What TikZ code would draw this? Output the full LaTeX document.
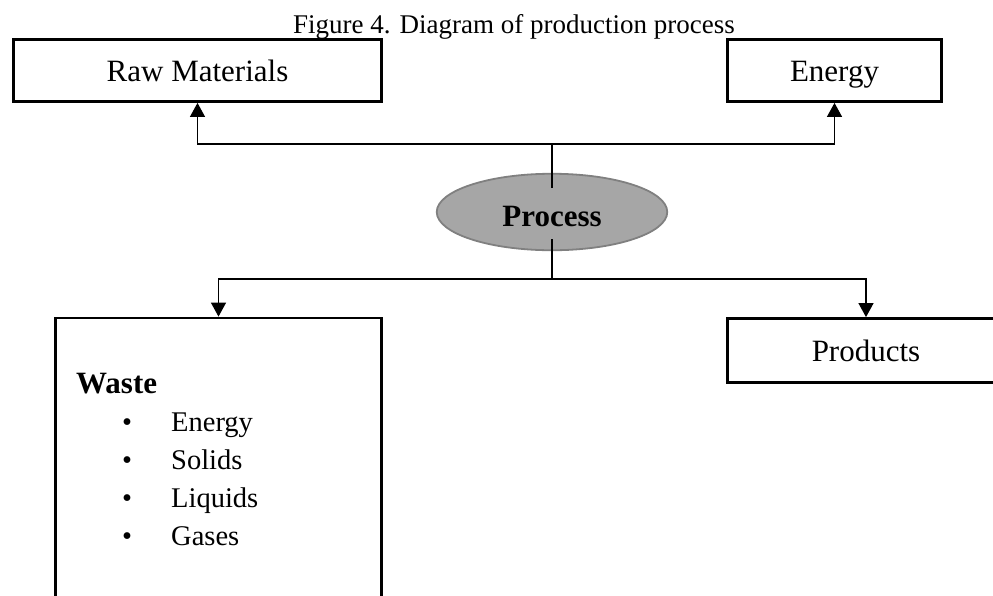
\documentclass[tikz,border=0pt]{standalone}
\usepackage{fontspec}
\setmainfont{Liberation Serif}
\usetikzlibrary{arrows.meta,shapes.geometric}
\begin{document}
\begin{tikzpicture}[x=1pt,y=-1pt,
  boxstyle/.style={draw=black, line width=2.8pt, rectangle, inner sep=0pt,
    font=\fontsize{31}{36}\selectfont, text height=21pt, text depth=0pt},
  procstyle/.style={ellipse, draw={rgb,255:red,128;green,128;blue,128}, line width=1.8pt,
    fill={rgb,255:red,166;green,166;blue,166}, inner sep=0pt,
    minimum width=230.5pt, minimum height=76.5pt,
    font=\bfseries\fontsize{31}{36}\selectfont, text height=28pt, text depth=0pt},
  conn/.style={draw=black, line width=1.2pt},
  arr/.style={conn, -{Triangle[width=15pt,length=14pt]}},
  itemstyle/.style={anchor=base west, inner sep=0pt, font=\fontsize{28.5}{34}\selectfont},
  bulletstyle/.style={anchor=base, inner sep=0pt, font=\fontsize{28.5}{34}\selectfont}
]
\useasboundingbox (0,0) rectangle (993,595);

\node[anchor=base, inner sep=0pt, font=\fontsize{27}{31}\selectfont] (title) at (514,33)
  {Figure 4. Diagram of production process};

\node[boxstyle, minimum width=368pt, minimum height=62pt] (raw) at (197.5,70.5) {Raw Materials};
\node[boxstyle, minimum width=214pt, minimum height=62pt] (energy) at (834.5,70.5) {Energy};

\node[procstyle] (proc) at (552,212) {Process};

\node[boxstyle, minimum width=326pt, minimum height=300pt] (waste) at (218.5,468) {};
\node[boxstyle, minimum width=277pt, minimum height=64pt] (products) at (866,350.5) {Products};

\coordinate (jt) at (552,144);
\coordinate (jb) at (552,279);

\draw[conn] ([yshift=-15pt]proc.north) -- (jt);
\draw[arr] (jt) -| (raw.south);
\draw[arr] (jt) -| (energy.south);
\draw[conn] ([yshift=12pt]proc.south) -- (jb);
\draw[arr] (jb) -| (waste.north);
\draw[arr] (jb) -| (products.north);

\node[anchor=base west, inner sep=0pt, font=\bfseries\fontsize{31}{36}\selectfont] (wastetitle) at (76,393) {Waste};
\node[bulletstyle] (b1) at (127,431) {•};
\node[bulletstyle] (b2) at (127,469) {•};
\node[bulletstyle] (b3) at (127,507) {•};
\node[bulletstyle] (b4) at (127,545) {•};
\node[itemstyle] (i1) at (171,431) {Energy};
\node[itemstyle] (i2) at (171,469) {Solids};
\node[itemstyle] (i3) at (171,507) {Liquids};
\node[itemstyle] (i4) at (171,545) {Gases};
\end{tikzpicture}
\end{document}
